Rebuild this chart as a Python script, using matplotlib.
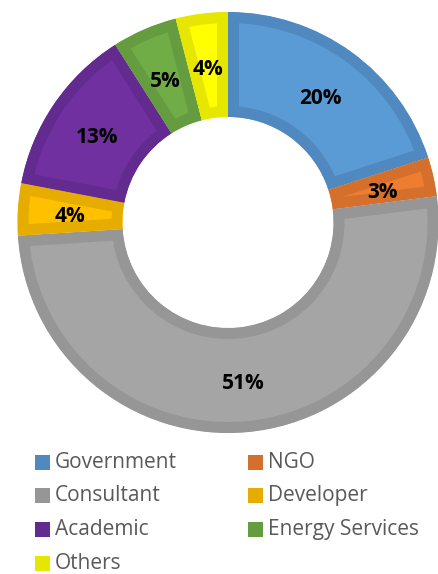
import matplotlib.pyplot as plt
from matplotlib.patches import Rectangle

categories = ["Government", "NGO", "Consultant", "Developer", "Academic", "Energy Services", "Others"]
shares = [20, 3, 51, 4, 13, 5, 4]
fill_colors = ["#5B9BD5", "#ED7D31", "#A5A5A5", "#FFC000", "#7030A0", "#70AD47", "#FFFF00"]
edge_colors = ["#4F89C0", "#D46F2C", "#969696", "#E6AD00", "#632B8F", "#659C40", "#E6E600"]

W, H = 438, 574
fig = plt.figure(figsize=(W / 100, H / 100), dpi=100)
ax = fig.add_axes([0, 0, 1, 1])

# work in pixel units, y measured from the bottom
cx, cy = 228, H - 222.5
r_out, ring = 210.5, 105

wedges, _, pct_texts = ax.pie(
    shares, radius=r_out, center=(cx, cy), startangle=90, counterclock=False,
    colors=fill_colors, autopct="%.0f%%", pctdistance=0.75,
    wedgeprops=dict(width=ring, linewidth=15.8),
    textprops=dict(fontsize=15, fontweight="bold", color="black", family="Open Sans"),
)
for w, ec in zip(wedges, edge_colors):
    w.set_edgecolor(ec)
    # pie turns clipping off; clip each wedge to itself so only the inner half of the border shows
    w.set_clip_on(True)
    w.set_clip_path(w)

# nudge the percentages down a little so the digits sit centred in the ring
for t in pct_texts:
    x, y = t.get_position()
    t.set_position((x, y - 4))

# legend, two columns, row by row
for i, (name, ec) in enumerate(zip(categories, edge_colors)):
    row, col = divmod(i, 2)
    y = H - (462 + row * 33.7)
    x = 35 if col == 0 else 248
    ax.add_patch(Rectangle((x, y - 7.5), 15, 15, facecolor=ec, edgecolor="none"))
    ax.text(x + 20, y, name, fontsize=15, color="#595959", family="Open Sans",
            va="center", ha="left")

ax.set_xlim(0, W)
ax.set_ylim(0, H)
ax.set_aspect("equal")
ax.axis("off")

fig.savefig("out.png", dpi=100)
